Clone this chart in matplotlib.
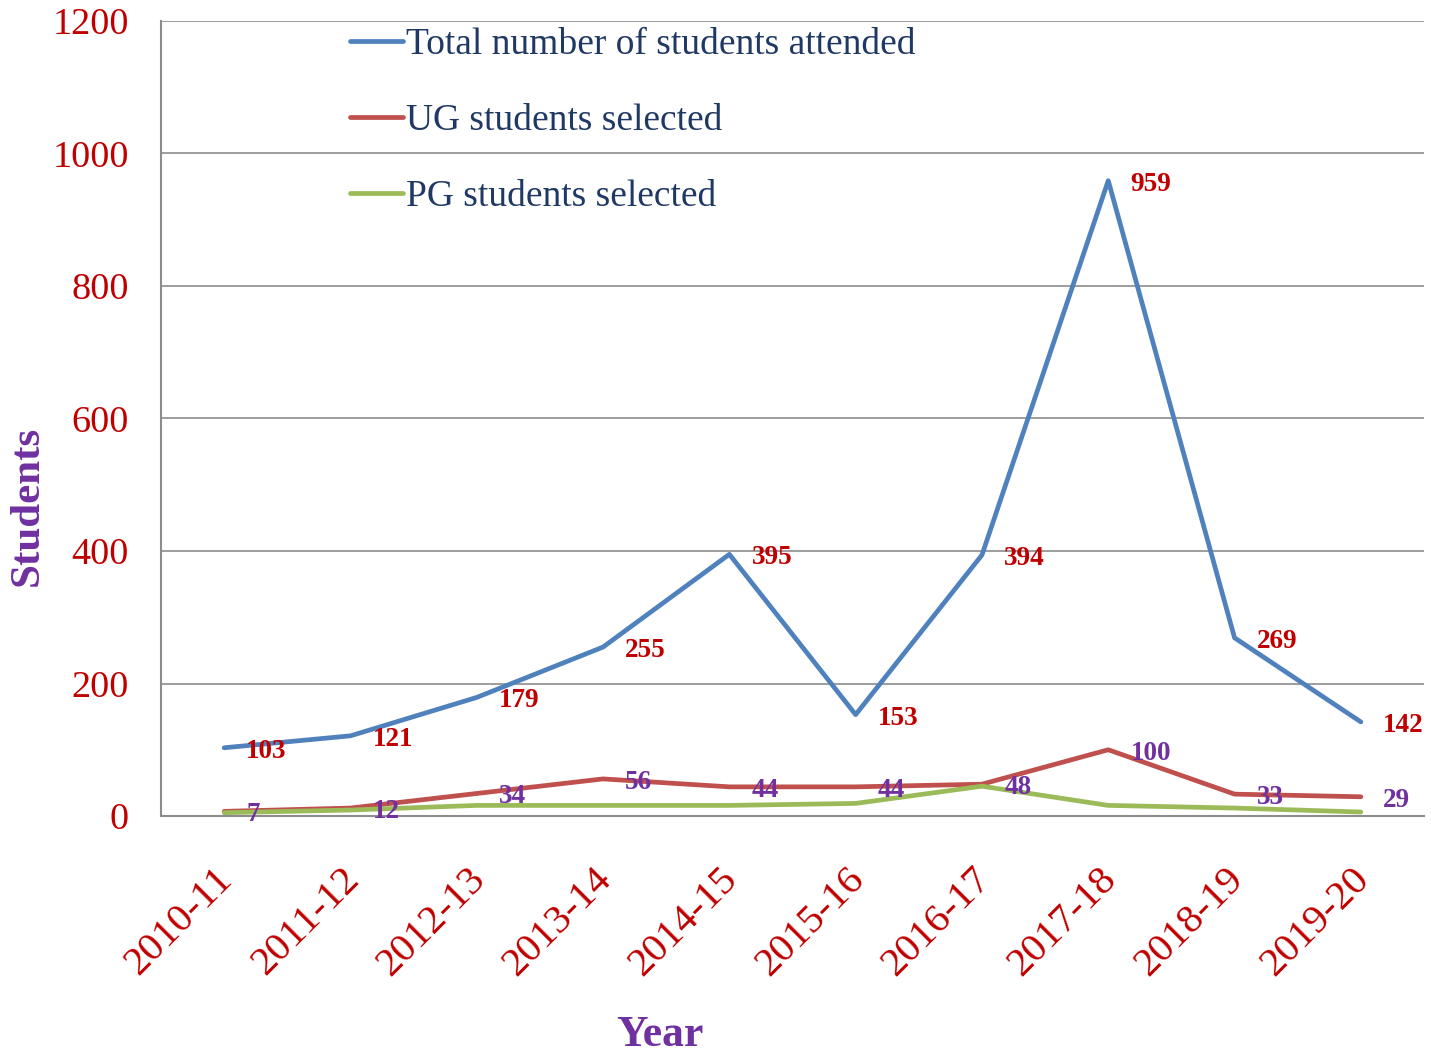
import matplotlib
matplotlib.use("Agg")
import matplotlib.pyplot as plt
from matplotlib.transforms import ScaledTranslation
import numpy as np

years = ["2010-11", "2011-12", "2012-13", "2013-14", "2014-15",
         "2015-16", "2016-17", "2017-18", "2018-19", "2019-20"]
total_attended = [103, 121, 179, 255, 395, 153, 394, 959, 269, 142]
ug_selected = [7, 12, 34, 56, 44, 44, 48, 100, 33, 29]
pg_selected = [5, 9, 16, 16, 16, 19, 45, 16, 12, 6]
yticks = [0, 200, 400, 600, 800, 1000, 1200]

plt.rcParams['font.family'] = ['Liberation Serif', 'DejaVu Serif']

fig = plt.figure(figsize=(14.31, 10.54), dpi=100)
ax = fig.add_axes([161/1431, 1-816/1054, (1424-161)/1431, (816-21)/1054])

x = np.arange(len(years))
blue = '#4F81BD'; red = '#C0504D'; green = '#9BBB59'
ax.plot(x, total_attended, color=blue, lw=3.4, label='Total number of students attended', solid_capstyle='round')
ax.plot(x, ug_selected, color=red, lw=3.4, label='UG students selected', solid_capstyle='round')
ax.plot(x, pg_selected, color=green, lw=3.4, label='PG students selected', solid_capstyle='round')

for xi, v in zip(x, total_attended):
    ax.annotate(str(v), (xi, v), xytext=(16, -2.5), textcoords='offset points',
                ha='left', va='center', color='#C00000', fontsize=19.5, fontweight='bold')
for xi, v in zip(x, ug_selected):
    ax.annotate(str(v), (xi, v), xytext=(16, -2.5), textcoords='offset points',
                ha='left', va='center', color='#7030A0', fontsize=19.5, fontweight='bold')

ax.set_xlim(-0.5, len(years) - 0.5)
ax.set_ylim(0, 1200)
ax.set_yticks(yticks)
ax.set_yticklabels([str(t) for t in yticks], color='#C00000', fontsize=27.5)
ax.set_xticks(x)
ax.set_xticklabels(years, rotation=45, ha='right', va='center', rotation_mode='anchor',
                   color='#C00000', fontsize=29.5)
ax.tick_params(axis='y', length=0, pad=23)
ax.tick_params(axis='x', length=0, pad=42)
for lbl in ax.get_xticklabels():
    lbl.set_transform(lbl.get_transform() + ScaledTranslation(0.03, 0, fig.dpi_scale_trans))
ax.grid(axis='y', color='#8C8C8C', lw=1.2)
ax.set_axisbelow(True)
for s in ['top', 'right']:
    ax.spines[s].set_visible(False)
ax.spines['left'].set_color('#8C8C8C'); ax.spines['left'].set_linewidth(1.5)
ax.spines['bottom'].set_color('#8C8C8C'); ax.spines['bottom'].set_linewidth(1.5)

ax.set_ylabel('Students', color='#7030A0', fontsize=31, fontweight='bold', va='center')
ax.yaxis.set_label_coords((28-161)/1263, (816-506)/795)
ax.set_xlabel('Year', color='#7030A0', fontsize=31.5, fontweight='bold', va='center')
ax.xaxis.set_label_coords((660-161)/1263, (816-1035)/795)

leg = ax.legend(loc='upper left', bbox_to_anchor=(350/1431, 1-28/1054), bbox_transform=fig.transFigure,
                frameon=False, fontsize=27, handlelength=1.4, handletextpad=0.08,
                labelspacing=1.1, borderpad=0, borderaxespad=0)
for t in leg.get_texts():
    t.set_color('#1F3864')

fig.savefig('out.png', dpi=100)
